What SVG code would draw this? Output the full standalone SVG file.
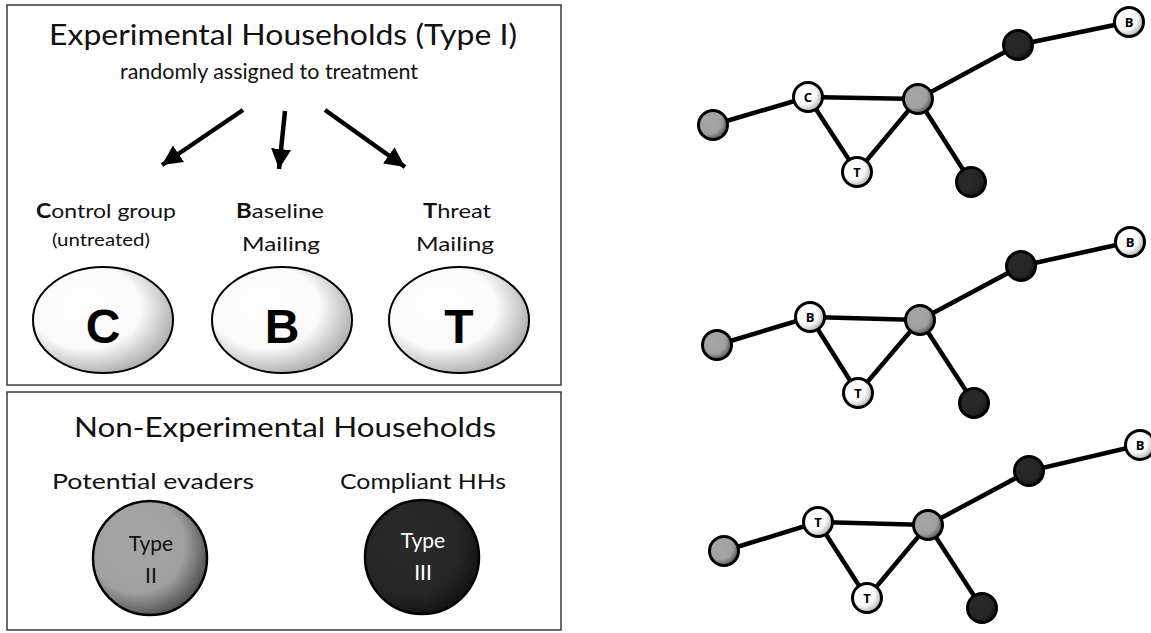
<svg xmlns="http://www.w3.org/2000/svg" width="1151" height="633" viewBox="0 0 1151 633">
<style>
.box{fill:#fff;stroke:#3a3a3a;stroke-width:1.5}
.t{font-family:Lato,"Open Sans","Liberation Sans",sans-serif;fill:#111;text-anchor:middle}
.big{font-family:"Liberation Sans",Arial,sans-serif;font-weight:bold;font-size:48px;text-anchor:middle;fill:#000}
.edge{stroke:#000;stroke-width:4.5;stroke-linecap:round;fill:none}
.arr{stroke:#000;stroke-width:4.5;fill:none}
.wn{fill:url(#gw);stroke:#000;stroke-width:3}
.gn{fill:url(#gg);stroke:#000;stroke-width:3}
.dn{fill:url(#gd);stroke:#000;stroke-width:3}
.nl{font-family:"Open Sans","Liberation Sans",sans-serif;font-weight:bold;font-size:13px;text-anchor:middle;fill:#000}
</style>
<defs>
<radialGradient id="gw" cx="40%" cy="40%" r="65%" fx="35%" fy="35%">
<stop offset="0" stop-color="#fff"/><stop offset="0.6" stop-color="#fafafa"/><stop offset="1" stop-color="#a8a8a8"/>
</radialGradient>
<radialGradient id="gg" cx="40%" cy="40%" r="65%" fx="35%" fy="35%">
<stop offset="0" stop-color="#a6a6a6"/><stop offset="0.65" stop-color="#a0a0a0"/><stop offset="1" stop-color="#4a4a4a"/>
</radialGradient>
<radialGradient id="gd" cx="40%" cy="40%" r="65%" fx="35%" fy="35%">
<stop offset="0" stop-color="#2a2a2a"/><stop offset="0.7" stop-color="#262626"/><stop offset="1" stop-color="#111"/>
</radialGradient>
<marker id="ah" markerUnits="userSpaceOnUse" markerWidth="20" markerHeight="20" refX="16" refY="8" orient="auto" viewBox="0 0 16 16">
<path d="M0,0 L16,8 L0,16 z" fill="#000"/>
</marker>
</defs>

<g id="experimental-box">
<rect class="box" x="7" y="5" width="554" height="380"/>
<text class="t" x="283" y="45" font-size="28" textLength="468" lengthAdjust="spacingAndGlyphs">Experimental Households (Type I)</text>
<text class="t" x="269" y="79" font-size="21" textLength="298" lengthAdjust="spacingAndGlyphs">randomly assigned to treatment</text>
</g>

<g id="connectors-arrows">
<line class="arr" x1="243" y1="110" x2="162" y2="165" marker-end="url(#ah)"/>
<line class="arr" x1="285" y1="111" x2="279" y2="169" marker-end="url(#ah)"/>
<line class="arr" x1="325" y1="110" x2="405" y2="167" marker-end="url(#ah)"/>
</g>

<g id="node-control">
<text class="t" x="106" y="218" font-size="20" textLength="140" lengthAdjust="spacingAndGlyphs"><tspan font-weight="bold">C</tspan>ontrol group</text>
<text class="t" x="101" y="246" font-size="17" textLength="98" lengthAdjust="spacingAndGlyphs">(untreated)</text>
<ellipse cx="103" cy="320" rx="70" ry="53" fill="url(#gw)" stroke="#000" stroke-width="2"/>
<text class="big" x="103" y="343">C</text>
</g>
<g id="node-baseline">
<text class="t" x="280" y="218" font-size="20" textLength="88" lengthAdjust="spacingAndGlyphs"><tspan font-weight="bold">B</tspan>aseline</text>
<text class="t" x="281" y="251" font-size="20" textLength="78" lengthAdjust="spacingAndGlyphs">Mailing</text>
<ellipse cx="282" cy="320" rx="70" ry="53" fill="url(#gw)" stroke="#000" stroke-width="2"/>
<text class="big" x="282" y="343">B</text>
</g>
<g id="node-threat">
<text class="t" x="457" y="218" font-size="20" textLength="68" lengthAdjust="spacingAndGlyphs"><tspan font-weight="bold">T</tspan>hreat</text>
<text class="t" x="455" y="251" font-size="20" textLength="78" lengthAdjust="spacingAndGlyphs">Mailing</text>
<ellipse cx="459" cy="320" rx="70" ry="53" fill="url(#gw)" stroke="#000" stroke-width="2"/>
<text class="big" x="459" y="343">T</text>
</g>

<g id="nonexperimental-box">
<rect class="box" x="7" y="392" width="554" height="238"/>
<text class="t" x="285" y="437" font-size="27" textLength="422" lengthAdjust="spacingAndGlyphs">Non-Experimental Households</text>
</g>
<g id="node-type2">
<text class="t" x="153" y="489" font-size="22" textLength="202" lengthAdjust="spacingAndGlyphs">Potential evaders</text>
<circle cx="150" cy="558" r="57" fill="url(#gg)" stroke="#000" stroke-width="2.5"/>
<text class="t" x="151" y="551" font-size="21">Type</text>
<text class="t" x="151" y="583" font-size="21">II</text>
</g>
<g id="node-type3">
<text class="t" x="423" y="489" font-size="22" textLength="166" lengthAdjust="spacingAndGlyphs">Compliant HHs</text>
<circle cx="422" cy="557" r="57" fill="url(#gd)" stroke="#000" stroke-width="2.5"/>
<text class="t" x="423" y="548" font-size="21" style="fill:#fff">Type</text>
<text class="t" x="423" y="580" font-size="21" style="fill:#fff">III</text>
</g>

<g id="network-edges">
<path class="edge" d="M713,125 L808,97 L918,99 L1018,45 L1129,22 M808,97 L857,172 L918,99 L971,182"/>
<path class="edge" d="M717,345 L810,317 L920,320 L1021,266 L1130,242 M810,317 L858,393 L920,320 L974,403"/>
<path class="edge" d="M724,551 L818,522 L928,525 L1029,471 L1140,445 M818,522 L867,598 L928,525 L982,608"/>
</g>

<g id="network-1">
<circle class="gn" cx="713" cy="125" r="14.5"/>
<circle class="wn" cx="808" cy="97" r="14.5"/><text class="nl" x="808" y="102">C</text>
<circle class="wn" cx="857" cy="172" r="14.5"/><text class="nl" x="857" y="177">T</text>
<circle class="gn" cx="918" cy="99" r="14.5"/>
<circle class="dn" cx="971" cy="182" r="14.5"/>
<circle class="dn" cx="1018" cy="45" r="14.5"/>
<circle class="wn" cx="1129" cy="22" r="14.5"/><text class="nl" x="1129" y="27">B</text>
</g>
<g id="network-2">
<circle class="gn" cx="717" cy="345" r="14.5"/>
<circle class="wn" cx="810" cy="317" r="14.5"/><text class="nl" x="810" y="322">B</text>
<circle class="wn" cx="858" cy="393" r="14.5"/><text class="nl" x="858" y="398">T</text>
<circle class="gn" cx="920" cy="320" r="14.5"/>
<circle class="dn" cx="974" cy="403" r="14.5"/>
<circle class="dn" cx="1021" cy="266" r="14.5"/>
<circle class="wn" cx="1130" cy="242" r="14.5"/><text class="nl" x="1130" y="247">B</text>
</g>
<g id="network-3">
<circle class="gn" cx="724" cy="551" r="14.5"/>
<circle class="wn" cx="818" cy="522" r="14.5"/><text class="nl" x="818" y="527">T</text>
<circle class="wn" cx="867" cy="598" r="14.5"/><text class="nl" x="867" y="603">T</text>
<circle class="gn" cx="928" cy="525" r="14.5"/>
<circle class="dn" cx="982" cy="608" r="14.5"/>
<circle class="dn" cx="1029" cy="471" r="14.5"/>
<circle class="wn" cx="1140" cy="445" r="14.5"/><text class="nl" x="1140" y="450">B</text>
</g>
</svg>
